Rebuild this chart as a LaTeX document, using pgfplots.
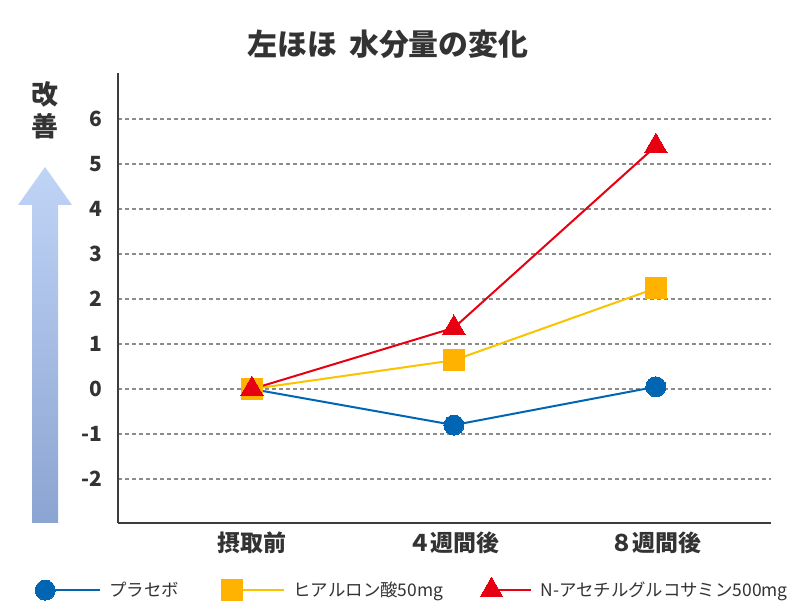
\documentclass[border=0pt]{standalone}
\usepackage{fontspec}
\setmainfont{Noto Sans CJK JP}
\usepackage{pgfplots}
\pgfplotsset{compat=1.18}

\definecolor{placebo}{RGB}{0,102,179}
\definecolor{hyaline}{RGB}{250,195,0}
\definecolor{hyamark}{RGB}{255,178,0}
\definecolor{nag}{RGB}{230,0,18}
\definecolor{axisgray}{RGB}{60,60,60}
\definecolor{gridgray}{RGB}{140,140,140}
\definecolor{txt}{RGB}{51,51,51}
\definecolor{arrtop}{RGB}{192,212,246}
\definecolor{arrbot}{RGB}{140,164,210}

% legend entry: marker on the left, line running to the right
\pgfplotsset{
  legline/.style={legend image code/.code={\draw[##1, mark repeat=2, mark phase=1]
    plot coordinates {(0bp,0bp) (#1,0bp)};}},
}

\begin{document}
\begin{tikzpicture}
\path[use as bounding box] (0,0) rectangle (794bp,614bp);

% improvement arrow beside the y axis
\shade[top color=arrtop, bottom color=arrbot]
  (32bp,91bp) -- (58bp,91bp) -- (58bp,409bp) -- (72bp,409bp)
  -- (45bp,447bp) -- (18bp,409bp) -- (32bp,409bp) -- cycle;
\node[font=\fontsize{27}{27}\selectfont\bfseries, text=txt] at (45bp,520bp) {改};
\node[font=\fontsize{27}{27}\selectfont\bfseries, text=txt] at (45bp,488bp) {善};

% title
\node[font=\fontsize{30}{30}\selectfont\bfseries, text=txt] at (388bp,570bp)
  {左ほほ\hspace{0.4em}水分量の変化};

\begin{axis}[
  at={(118bp,91.3bp)}, anchor=south west,
  scale only axis, width=653bp, height=450bp,
  xmin=-0.663, xmax=2.57, ymin=-2.97, ymax=7.03,
  axis x line*=bottom, axis y line*=left,
  axis line style={axisgray, line width=2bp},
  xtick={0,1,2}, xticklabels={摂取前,４週間後,８週間後},
  ytick={-2,...,6},
  major tick length=0pt,
  ymajorgrids,
  major grid style={gridgray, dash pattern=on 4bp off 3bp, line width=1.2bp},
  /pgf/number format/assume math mode=true,
  ticklabel style={text=txt},
  yticklabel style={font=\fontsize{21}{21}\selectfont\bfseries, xshift=-12bp},
  xticklabel style={font=\fontsize{23}{23}\selectfont\bfseries, yshift=-6bp},
  clip=false,
  legend columns=3,
  legend style={at={(-0.127,-0.147)}, anchor=west, draw=none, fill=none,
    inner sep=0pt, font=\fontsize{17.5}{17.5}\selectfont, text=txt,
    /tikz/every odd column/.append style={column sep=6bp},
    /tikz/column 2/.append style={column sep=41bp},
    /tikz/column 4/.append style={column sep=35bp}},
]
\addplot[placebo, line width=2bp, mark=*, mark size=10bp,
  mark options={line width=0pt}, legline=55bp]
  coordinates {(0,0) (1,-0.8) (2,0.05)};
\addplot[hyaline, line width=2bp, mark=square*, mark size=10.5bp,
  mark options={fill=hyamark, draw=hyamark, line width=0pt}, legline=52bp]
  coordinates {(0,0) (1,0.64) (2,2.24)};
\addplot[nag, line width=2bp, mark=triangle*, mark size=13bp,
  mark options={line width=0pt}, legline=40bp]
  coordinates {(0,0) (1,1.36) (2,5.4)};
\legend{プラセボ, ヒアルロン酸50mg, N-アセチルグルコサミン500mg}
\end{axis}
\end{tikzpicture}
\end{document}
